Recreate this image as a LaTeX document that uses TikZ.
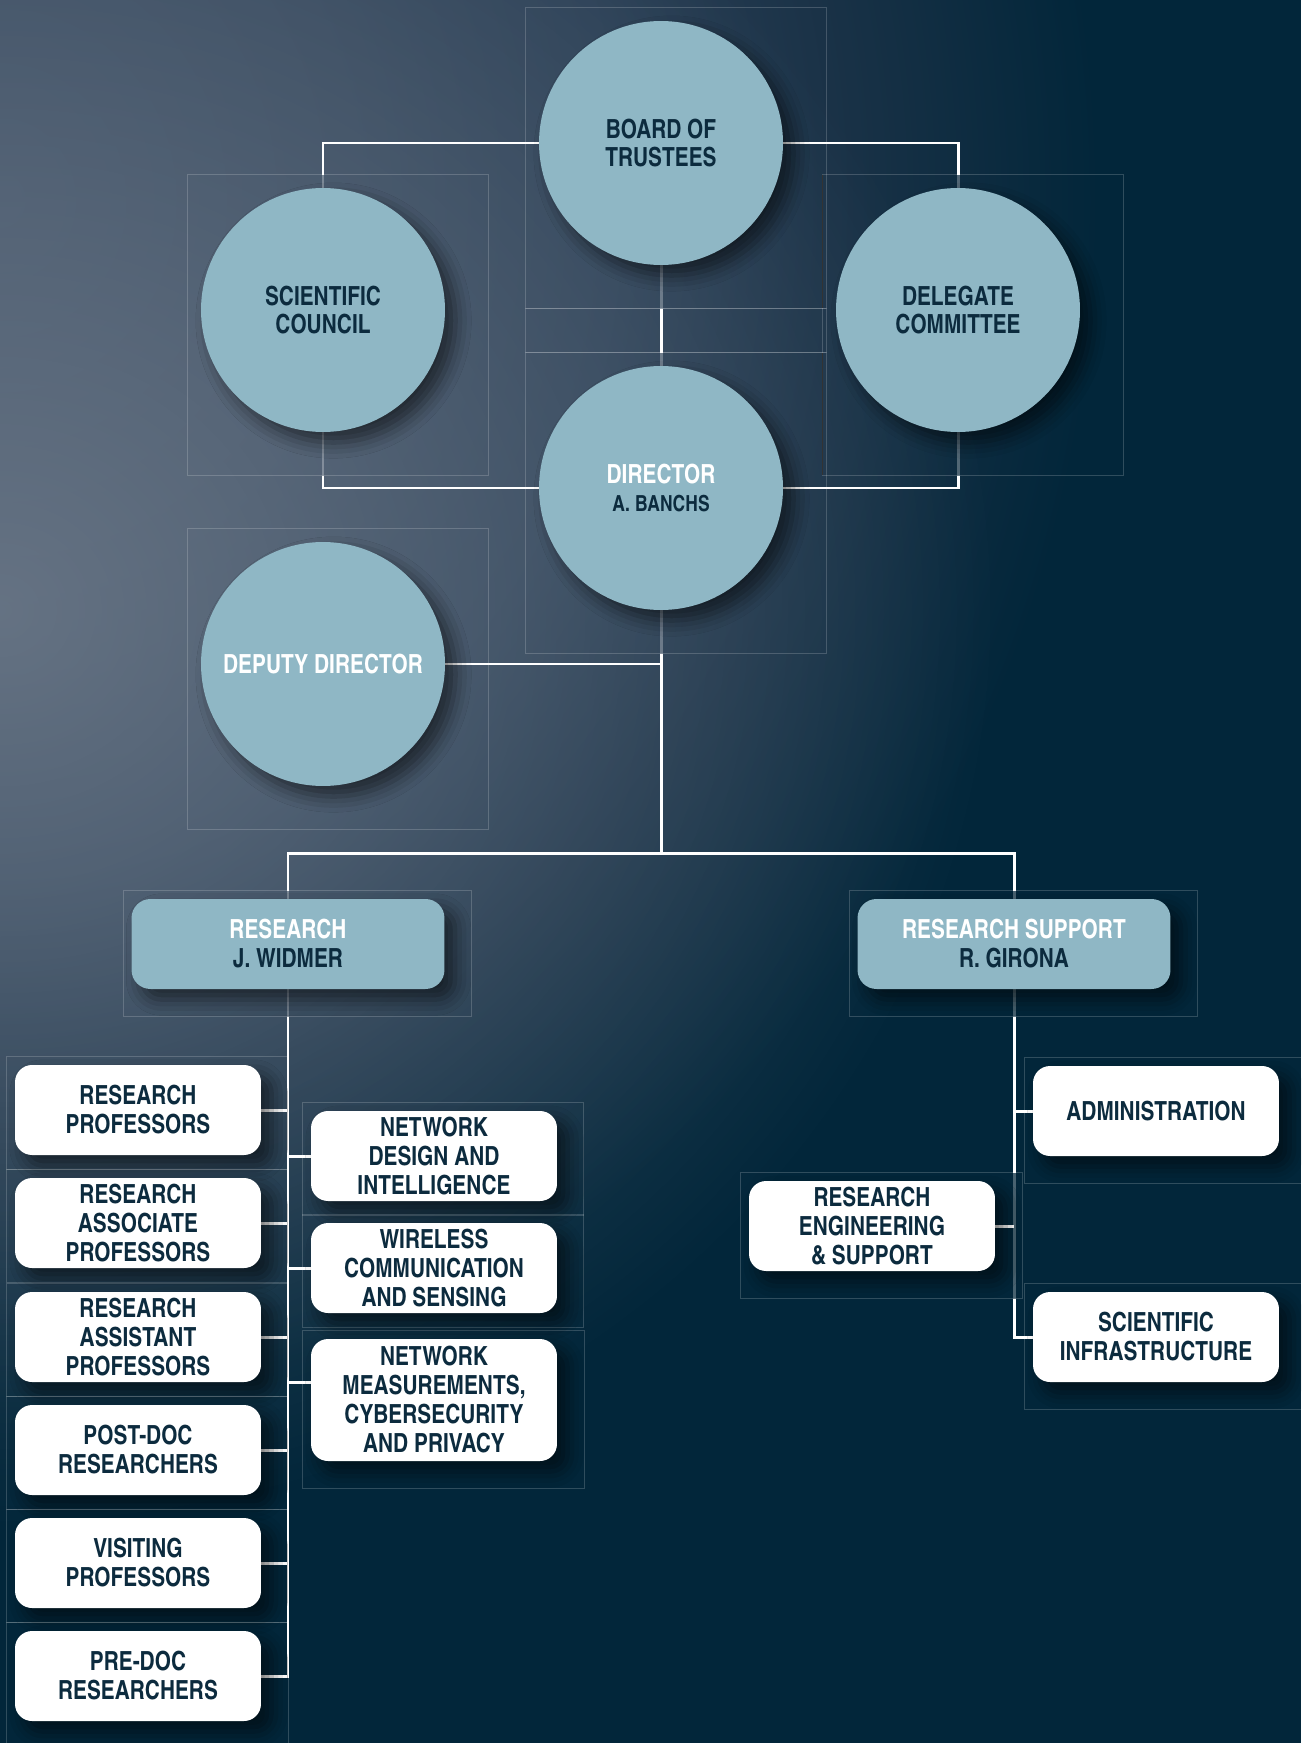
\documentclass[tikz,border=0pt]{standalone}
\usepackage{fontspec}
\newfontfamily\orgfont{texgyreheroscn-bold.otf}[FakeStretch=0.965]
\usepackage{tikz}
\usetikzlibrary{calc,positioning,shadows,fadings}
\IfFileExists{tikzlibraryshadows.blur.code.tex}
  {\usetikzlibrary{shadows.blur}
   \tikzset{shadowed/.style={blur shadow={shadow xshift=6pt, shadow yshift=-6pt, shadow blur radius=9pt, shadow opacity=55}}}}
  {\tikzset{shadowed/.style={drop shadow={shadow xshift=5pt, shadow yshift=-5pt, opacity=0.35}}}}
\definecolor{bgnavy}{HTML}{02263A}
\definecolor{bgtop}{HTML}{3D4F64}
\definecolor{bgmid}{HTML}{35485D}
\definecolor{bgdim}{HTML}{2B4056}
\definecolor{bgdeep}{HTML}{1A3247}
\definecolor{bgglow}{HTML}{7A8594}
\definecolor{orgblue}{HTML}{8FB7C5}
\definecolor{orgnavy}{HTML}{0C2B3E}
\pgfdeclareradialshading{bgbase}{\pgfpoint{0bp}{0bp}}{color(0bp)=(bgtop); color(8bp)=(bgmid); color(14bp)=(bgdim); color(19bp)=(bgdeep); color(25bp)=(bgnavy); color(50bp)=(bgnavy)}
\tikzfading[name=glowfade, inner color=transparent!30, outer color=transparent!100]
\newcommand{\paintbg}{%
  \fill[bgnavy] (0,0) rectangle (1301,1743);
  \shade[shading=bgbase] (0,200) ellipse [x radius=1100, y radius=1200];
  \fill[bgglow, path fading=glowfade] (0,610) ellipse [x radius=1000, y radius=920];}
\pgfdeclarelayer{back}
\pgfdeclarelayer{links}
\pgfdeclarelayer{dim}
\pgfdeclarelayer{frames}
\pgfsetlayers{back,links,dim,frames,main}
\begin{document}
\begin{tikzpicture}[x=0.02cm, y=-0.02cm,
    circ/.style={circle, fill=orgblue, minimum size=4.88cm, inner sep=0pt, align=center, text=orgnavy, font=\orgfont\fontsize{15}{16.1}\selectfont, shadowed},
    headbox/.style={rectangle, rounded corners=0.38cm, fill=orgblue, minimum width=6.26cm, minimum height=1.8cm, inner sep=0pt, align=center, text=orgnavy, font=\orgfont\fontsize{15}{16.5}\selectfont, shadowed},
    unitbox/.style={rectangle, rounded corners=0.34cm, fill=white, minimum width=4.92cm, minimum height=1.8cm, inner sep=0pt, align=center, text=orgnavy, font=\orgfont\fontsize{15}{16.5}\selectfont, shadowed},
    link/.style={draw=white, line width=1.7pt},
    frame/.style={draw=white, draw opacity=0.18, line width=0.6pt}]
  \useasboundingbox (0,0) rectangle (1301,1743);
  % governing bodies
  \node[circ] (board) at (661,143) {BOARD OF\\TRUSTEES};
  \node[circ] (sci) at (323,310) {SCIENTIFIC\\COUNCIL};
  \node[circ] (dele) at (958,310) {DELEGATE\\COMMITTEE};
  \node[circ] (dir) at (661,488) {\textcolor{white}{DIRECTOR}\\{\fontsize{12.6}{16.1}\selectfont A. BANCHS}};
  \node[circ, text=white] (dep) at (323,664) {DEPUTY DIRECTOR};
  % heads of area
  \node[headbox] (res) at (288,944) {\textcolor{white}{RESEARCH}\\J. WIDMER};
  \node[headbox] (sup) at (1014,944) {\textcolor{white}{RESEARCH SUPPORT}\\R. GIRONA};
  % research staff
  \node[unitbox] (rprof) at (138,1110) {RESEARCH\\PROFESSORS};
  \node[unitbox] (rassoc) at (138,1223) {RESEARCH\\ASSOCIATE\\PROFESSORS};
  \node[unitbox] (rassist) at (138,1337) {RESEARCH\\ASSISTANT\\PROFESSORS};
  \node[unitbox] (postdoc) at (138,1450) {POST-DOC\\RESEARCHERS};
  \node[unitbox] (visit) at (138,1563) {VISITING\\PROFESSORS};
  \node[unitbox] (predoc) at (138,1676) {PRE-DOC\\RESEARCHERS};
  % research groups
  \node[unitbox] (netdesign) at (434,1156) {NETWORK\\DESIGN AND\\INTELLIGENCE};
  \node[unitbox] (wireless) at (434,1268) {WIRELESS\\COMMUNICATION\\AND SENSING};
  \node[unitbox, minimum height=2.44cm] (netmeas) at (434,1400) {NETWORK\\MEASUREMENTS,\\CYBERSECURITY\\AND PRIVACY};
  % support units
  \node[unitbox] (admin) at (1156,1111) {ADMINISTRATION};
  \node[unitbox] (resengr) at (872,1226) {RESEARCH\\ENGINEERING\\\& SUPPORT};
  \node[unitbox] (sciinfra) at (1156,1337) {SCIENTIFIC\\INFRASTRUCTURE};
  \coordinate (fork) at (661,853);
  \coordinate (nmlink) at ([yshift=0.35cm]netmeas.west);
  % frame corners
  \foreach \n in {board,sci,dele,dir,dep} {
    \coordinate (\n-tl) at ($(\n.west |- \n.north)+(-13,-13)$);
    \coordinate (\n-br) at ($(\n.east |- \n.south)+(43,43)$);
  }
  \foreach \n in {res,sup,predoc,netmeas,admin,resengr,sciinfra} {
    \coordinate (\n-tl) at ($(\n.west |- \n.north)+(-8,-8)$);
    \coordinate (\n-br) at ($(\n.east |- \n.south)+(27,27)$);
  }
  \foreach \n in {rprof,rassoc,rassist,postdoc,visit,netdesign,wireless} {
    \coordinate (\n-tl) at ($(\n.west |- \n.north)+(-8,-8)$);
    \coordinate (\n-br) at ($(\n.east |- \n.south)+(26,14)$);
  }
  % background
  \begin{pgfonlayer}{back}
    \begin{scope}
      \clip (0,0) rectangle (1301,1743);
      \paintbg
    \end{scope}
  \end{pgfonlayer}
  % connectors
  \begin{pgfonlayer}{links}
    \draw[link] (board.west) -| (sci.north);
    \draw[link] (board.east) -| (dele.north);
    \draw[link] (sci.south) |- (dir.west);
    \draw[link] (dele.south) |- (dir.east);
    \draw[link] (board.south) -- (dir.north);
    \draw[link] (dir.south) -- (fork);
    \draw[link] (dep.east) -- (dep.east -| dir.south);
    \draw[link] (res.north) |- (fork) -| (sup.north);
    \draw[link] (res.south) |- (predoc.east);
    \foreach \n in {rprof,rassoc,rassist,postdoc,visit}
      \draw[link] (\n.east) -- (\n.east -| res.south);
    \foreach \n in {netdesign,wireless}
      \draw[link] (\n.west -| res.south) -- (\n.west);
    \draw[link] (nmlink -| res.south) -- (nmlink);
    \draw[link] (sup.south) |- (sciinfra.west);
    \draw[link] (admin.west -| sup.south) -- (admin.west);
    \draw[link] (resengr.east) -- (resengr.east -| sup.south);
  \end{pgfonlayer}
  % dimmed inside the frames
  \begin{pgfonlayer}{dim}
    \begin{scope}
      \clip (board-tl) rectangle (board-br) (sci-tl) rectangle (sci-br)
        (dele-tl) rectangle (dele-br) (dir-tl) rectangle (dir-br)
        (dep-tl) rectangle (dep-br) (res-tl) rectangle (res-br)
        (sup-tl) rectangle (sup-br) (resengr-tl) rectangle (resengr-br);
      \begin{scope}[transparency group, opacity=0.72]
        \paintbg
      \end{scope}
    \end{scope}
  \end{pgfonlayer}
  % frames
  \begin{pgfonlayer}{frames}
    \foreach \n in {board,sci,dele,dir,dep,res,sup,rprof,rassoc,rassist,postdoc,visit,predoc,netdesign,wireless,netmeas,admin,resengr,sciinfra}
      \draw[frame] (\n-tl) rectangle (\n-br);
    \draw[frame] (board-tl |- board-br) rectangle (dir-br |- dir-tl);
    \draw[black!80, line width=0.8pt] (dele-tl) -- (dele-tl |- board-br) (dele-tl |- dir-tl) -- (dele-tl |- dele-br);
    % horizontal links stay bright
    \draw[link] (board.west) -- (board.west -| sci.north);
    \draw[link] (board.east) -- (board.east -| dele.north);
    \draw[link] (dir.west) -- (dir.west -| sci.south);
    \draw[link] (dir.east) -- (dir.east -| dele.south);
    \draw[link] (dep.east) -- (dep.east -| dir.south);
    \draw[link] (resengr.east) -- (resengr.east -| sup.south);
  \end{pgfonlayer}
\end{tikzpicture}
\end{document}
